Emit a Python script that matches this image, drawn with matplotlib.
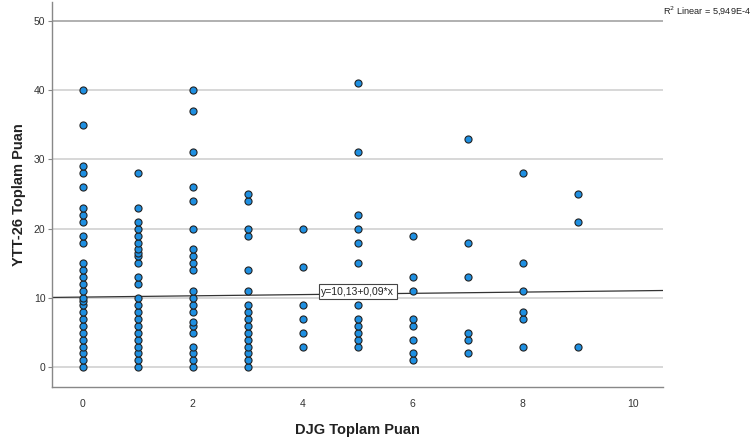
import matplotlib
matplotlib.use("Agg")
import matplotlib.pyplot as plt

plt.rcParams['font.family'] = ['Liberation Sans', 'DejaVu Sans']

# DJG score groups and the YTT-26 scores observed in each group
djg_values = [0, 1, 2, 3, 4, 5, 6, 7, 8, 9]
ytt_by_djg = [
    [0, 1, 2, 3, 4, 5, 6, 7, 8, 9, 9.5, 10, 11, 12, 13, 14, 15, 18, 19, 21, 22, 23, 26, 28, 29, 35, 40],
    [0, 1, 2, 3, 4, 5, 6, 7, 8, 9, 10, 12, 13, 15, 16, 16.5, 17, 18, 19, 20, 21, 23, 28],
    [0, 1, 2, 3, 5, 6, 6.5, 8, 9, 10, 11, 14, 15, 16, 17, 20, 24, 26, 31, 37, 40],
    [0, 1, 2, 3, 4, 5, 6, 7, 8, 9, 11, 14, 19, 20, 24, 25],
    [3, 5, 7, 9, 14.5, 20],
    [3, 4, 5, 6, 7, 9, 15, 18, 20, 22, 31, 41],
    [1, 2, 4, 6, 7, 11, 13, 19],
    [2, 4, 5, 13, 18, 33],
    [3, 7, 8, 11, 15, 28],
    [3, 21, 25],
]
fit_intercept = 10.13
fit_slope = 0.09
fit_label = "y=10,13+0,09*x"
r2_label = "R$^2$ Linear = 5,949E-4"
x_ticks = [0, 2, 4, 6, 8, 10]
y_ticks = [0, 10, 20, 30, 40, 50]
x_title = "DJG Toplam Puan"
y_title = "YTT-26 Toplam Puan"

xs, ys = [], []
for d, vals in zip(djg_values, ytt_by_djg):
    for v in vals:
        xs.append(d)
        ys.append(v)

fig = plt.figure(figsize=(7.53, 4.41), dpi=100)
ax = fig.add_axes([0.0697, 0.1231, 0.8108, 0.8724])

xlim = (-0.55, 10.55)
ylim = (-2.8, 52.7)
ax.set_xlim(*xlim)
ax.set_ylim(*ylim)

for t in y_ticks:
    ax.axhline(t, color='#aaaaaa' if t == y_ticks[-1] else '#d4d4d4', lw=1.3, zorder=0)

ax.scatter(xs, ys, s=26, facecolor='#1E8FE1', edgecolor='#222222', linewidth=0.8, zorder=3)

fx = list(xlim)
fy = [fit_intercept + fit_slope * v for v in fx]
ax.plot(fx, fy, color='#333333', lw=0.9, zorder=2)

ax.text(5, fit_intercept + fit_slope * 5 + 0.35, fit_label, ha='center', va='center', fontsize=7.5,
        color='#222222', zorder=5,
        bbox=dict(boxstyle='square,pad=0.25', facecolor='white', edgecolor='#444444', linewidth=0.8))

ax.set_xticks(x_ticks)
ax.set_yticks(y_ticks)
ax.tick_params(axis='x', length=0, labelsize=7.5, labelcolor='#333333', pad=9)
ax.tick_params(axis='y', length=3, width=0.8, color='#888888', labelsize=7.5, labelcolor='#333333', pad=2)

for s in ['top', 'right']:
    ax.spines[s].set_visible(False)
for s in ['left', 'bottom']:
    ax.spines[s].set_color('#888888')
    ax.spines[s].set_linewidth(1.0)

ax.set_xlabel(x_title, fontsize=10.5, fontweight='bold', color='#222222', labelpad=10)
ax.set_ylabel(y_title, fontsize=10.5, fontweight='bold', color='#222222', labelpad=6)

fig.text(0.881, 0.99, r2_label, ha='left', va='top', fontsize=6.6, color='#222222')

fig.savefig('out.png', dpi=100)
